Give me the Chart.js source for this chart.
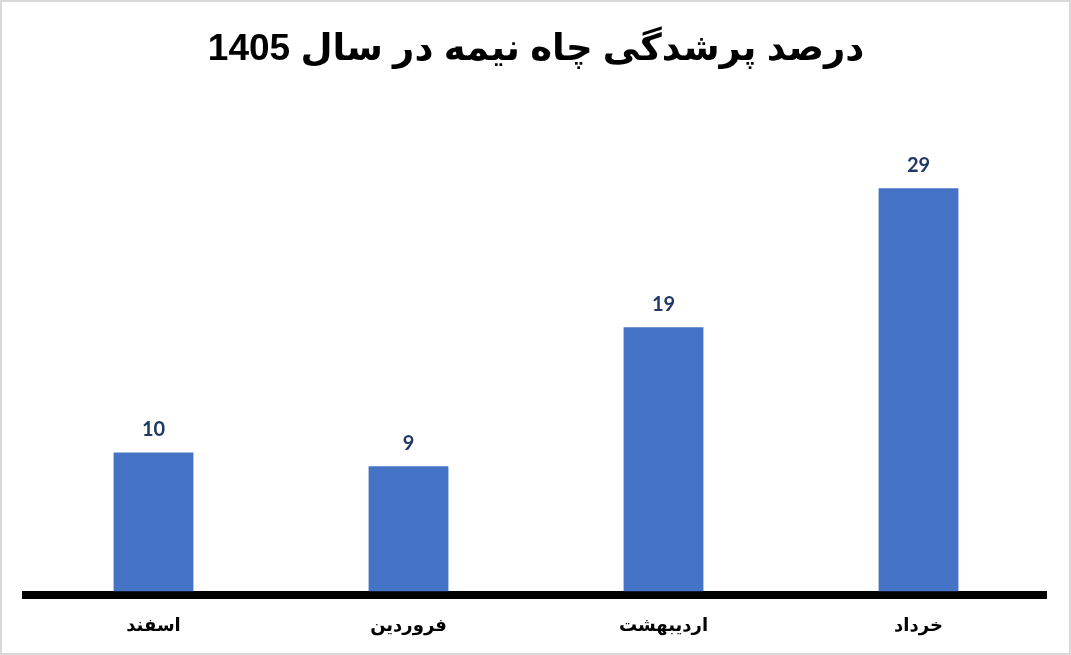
<!DOCTYPE html>
<html>
<head>
<meta charset="utf-8">
<script src="https://cdn.jsdelivr.net/npm/chart.js@4.4.1/dist/chart.umd.min.js"></script>
<style>
  html, body { margin: 0; padding: 0; background: #fff; }
  #wrap { position: relative; width: 1067px; height: 651px; border: 2px solid #d9d9d9; }
</style>
</head>
<body>
<div id="wrap"><canvas id="chart" dir="rtl"></canvas></div>
<script>
// --- Données ---
const chartTitle = "درصد پرشدگی چاه نیمه در سال 1405";
const months = ["اسفند", "فروردین", "اردیبهشت", "خرداد"];
const fillPercent = [10, 9, 19, 29];

// étiquettes au-dessus des barres
const barLabels = {
    id: "barLabels",
    afterDatasetsDraw(chart) {
        const ctx = chart.ctx;
        const meta = chart.getDatasetMeta(0);
        ctx.save();
        ctx.font = "bold 20px Lato, 'DejaVu Sans', sans-serif";
        ctx.fillStyle = "#1f3864";
        ctx.textAlign = "center";
        ctx.textBaseline = "bottom";
        meta.data.forEach((bar, i) => {
            ctx.fillText(String(fillPercent[i]), bar.x, bar.y - 13);
        });
        ctx.restore();
    }
};

const ctx = document.getElementById("chart").getContext("2d");
new Chart(ctx, {
    type: "bar",
    data: {
        labels: months,
        datasets: [{
            data: fillPercent,
            backgroundColor: "#4472c4",
            barPercentage: 1,
            categoryPercentage: 0.313
        }]
    },
    options: {
        responsive: true,
        maintainAspectRatio: false,
        animation: false,
        layout: { padding: { left: 24, right: 23, top: 0, bottom: 4 } },
        plugins: {
            legend: { display: false },
            tooltip: { enabled: false },
            title: {
                display: true,
                text: chartTitle,
                color: "#000",
                font: { family: "Arial, 'Liberation Sans', 'DejaVu Sans', sans-serif", size: 37, weight: "bold" },
                padding: { top: 26, bottom: 102 }
            }
        },
        scales: {
            x: {
                grid: { display: false },
                border: { display: true, color: "#000", width: 8 },
                ticks: {
                    color: "#000",
                    padding: 12,
                    font: { family: "Arial, 'Liberation Sans', 'DejaVu Sans', sans-serif", size: 18, weight: "bold" }
                }
            },
            y: {
                display: false,
                // un peu sous zéro pour que les barres s'arrêtent au-dessus du trait noir
                min: -0.29,
                max: 30
            }
        }
    },
    plugins: [barLabels]
});
</script>
</body>
</html>
